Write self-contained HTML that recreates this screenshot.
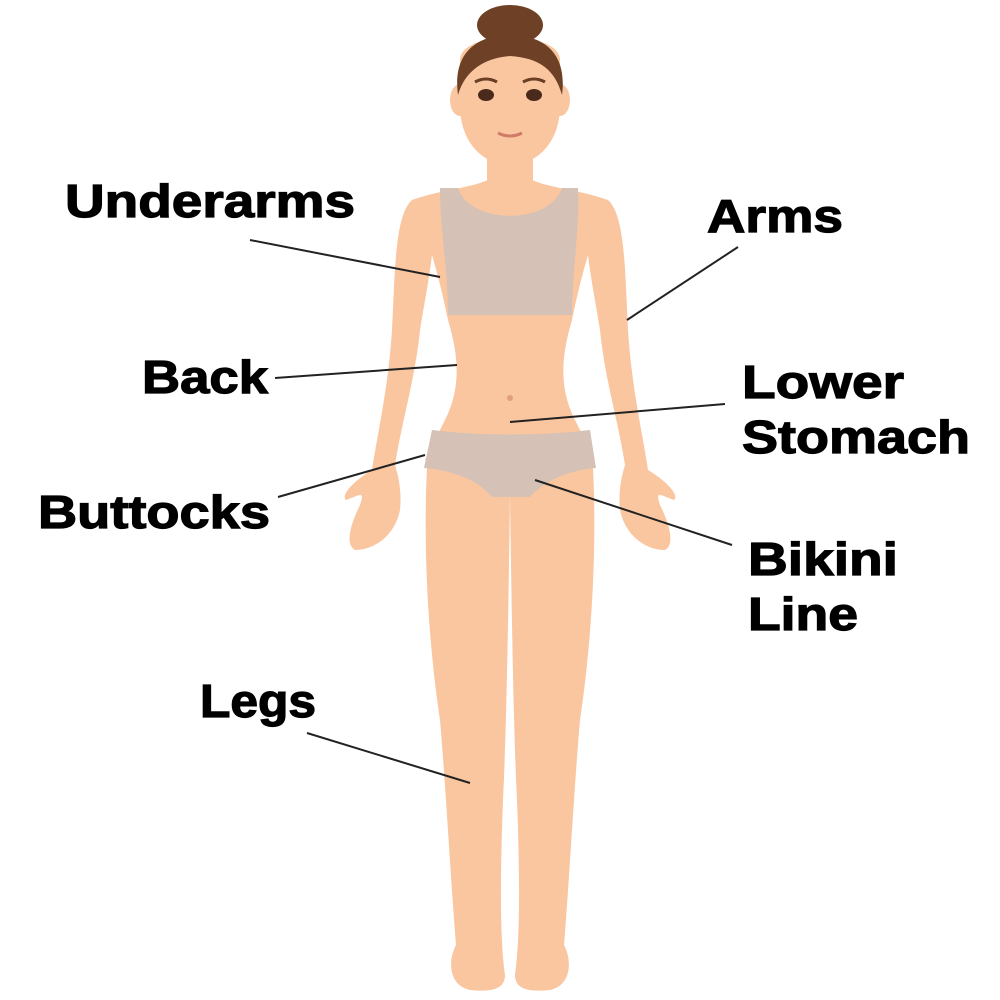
<!DOCTYPE html>
<html><head><meta charset="utf-8"><style>
html,body{margin:0;padding:0;background:#fff;}
svg{display:block;}
text{font-family:"Liberation Sans",sans-serif;font-weight:bold;font-size:46px;fill:#000;stroke:#000;stroke-width:1.2px;}
</style></head><body>
<svg width="1000" height="1000" viewBox="0 0 1000 1000" xmlns="http://www.w3.org/2000/svg">
<g fill="#F9C6A0">
<path d="M428,450 C422,540 428,640 440,720 C446,790 450,870 456,945 C448,960 448,985 470,990 C490,992 505,990 505,975 C500,940 500,880 503,800 C506,740 508,640 510,495 Z"/>
<path d="M592,450 C598,540 592,640 580,720 C574,790 570,870 564,945 C572,960 572,985 550,990 C530,992 515,990 515,975 C520,940 520,880 517,800 C514,740 512,640 510,495 Z"/>
<path d="M412,200 C395,215 395,270 392,330 C388,390 378,430 372,470 C355,480 340,495 346,500 C360,495 365,490 360,505 C350,525 345,545 355,550 C375,550 395,535 400,510 C402,490 398,475 395,465 C402,420 415,380 420,330 C428,280 440,230 430,195 Z"/>
<path d="M608,200 C625,215 625,270 628,330 C632,390 642,430 648,470 C665,480 680,495 674,500 C660,495 655,490 660,505 C670,525 675,545 665,550 C645,550 625,535 620,510 C618,490 622,475 625,465 C618,420 605,380 600,330 C592,280 580,230 590,195 Z"/>
<path d="M412,200 C440,190 470,188 488,180 L532,180 C550,188 580,190 608,200 C590,240 578,290 572,320 C560,360 560,390 575,420 L595,460 L425,460 L445,420 C460,390 460,360 448,320 C442,290 430,240 412,200 Z"/>
<rect x="487" y="140" width="46" height="55"/>
<ellipse cx="460" cy="100" rx="10" ry="16"/>
<ellipse cx="560" cy="100" rx="10" ry="16"/>
<path d="M460,60 C460,30 560,30 560,60 L560,110 C558,145 535,165 510,165 C485,165 462,145 460,110 Z"/>
</g>
<ellipse cx="510" cy="25" rx="33" ry="20" fill="#6E4026"/>
<path d="M458,95 C452,50 480,35 510,35 C540,35 568,50 562,95 C555,70 540,58 510,56 C485,58 465,70 458,95 Z" fill="#6E4026"/>
<ellipse cx="486" cy="95" rx="8" ry="6" fill="#4a2a1a"/>
<ellipse cx="534" cy="95" rx="8" ry="6" fill="#4a2a1a"/>
<path d="M475,82 Q486,76 497,82 M523,82 Q534,76 545,82" stroke="#6b3f25" stroke-width="3" fill="none"/>
<path d="M498,133 Q510,139 522,133" stroke="#d07a6a" stroke-width="3" fill="none"/>
<path d="M440,188 L458,188 C470,225 550,225 562,188 L578,188 C580,230 572,270 572,315 L448,315 C448,270 440,230 440,188 Z" fill="#D5C1B5"/>
<path d="M432,430 C480,436 540,436 590,430 L596,468 C570,470 545,480 530,497 L492,497 C478,480 452,470 424,468 Z" fill="#D5C1B5"/>
<circle cx="510" cy="398" r="3" fill="#e0a080"/>
<g stroke="#222" stroke-width="2">
<line x1="250" y1="240" x2="440" y2="277"/>
<line x1="738" y1="247" x2="627" y2="320"/>
<line x1="275" y1="378" x2="457" y2="365"/>
<line x1="725" y1="404" x2="510" y2="422"/>
<line x1="278" y1="497" x2="425" y2="455"/>
<line x1="732" y1="545" x2="535" y2="480"/>
<line x1="307" y1="733" x2="470" y2="783"/>
</g>
<text x="65" y="217" textLength="290" lengthAdjust="spacingAndGlyphs">Underarms</text>
<text x="707" y="232" textLength="136" lengthAdjust="spacingAndGlyphs">Arms</text>
<text x="142" y="393" textLength="126" lengthAdjust="spacingAndGlyphs">Back</text>
<text x="742" y="398" textLength="162" lengthAdjust="spacingAndGlyphs">Lower</text>
<text x="742" y="453" textLength="228" lengthAdjust="spacingAndGlyphs">Stomach</text>
<text x="38" y="528" textLength="232" lengthAdjust="spacingAndGlyphs">Buttocks</text>
<text x="748" y="575" textLength="150" lengthAdjust="spacingAndGlyphs">Bikini</text>
<text x="748" y="630" textLength="110" lengthAdjust="spacingAndGlyphs">Line</text>
<text x="200" y="717" textLength="116" lengthAdjust="spacingAndGlyphs">Legs</text>
</svg>
</body></html>
